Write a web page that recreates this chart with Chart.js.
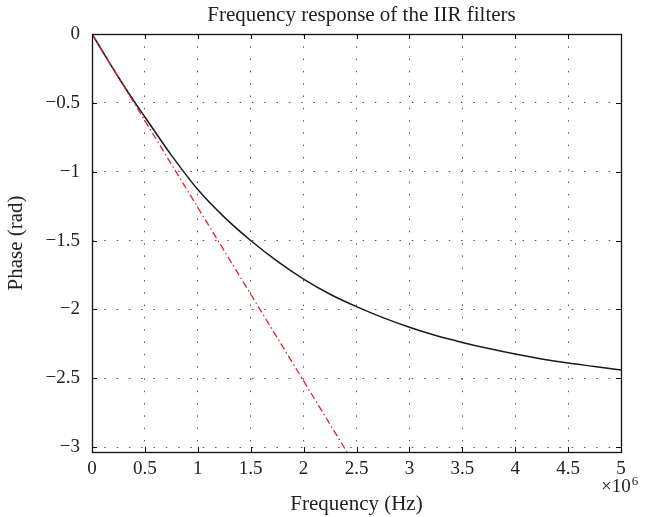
<!DOCTYPE html>
<html><head><meta charset="utf-8">
<script src="https://cdn.jsdelivr.net/npm/chart.js@4/dist/chart.umd.min.js"></script>
<style>html,body{margin:0;padding:0;background:#fff;}</style>
</head><body>
<canvas id="c" width="646" height="517"></canvas>
<script>
const chartTitle = 'Frequency response of the IIR filters';
const xAxisTitle = 'Frequency (Hz)';
const yAxisTitle = 'Phase (rad)';
const xScaleNote = '\u00d710';
const xScaleExp = '6';
const xTicks = [0, 0.5, 1, 1.5, 2, 2.5, 3, 3.5, 4, 4.5, 5];
const yTicks = [0, -0.5, -1, -1.5, -2, -2.5, -3];
// frequency in units of 10^6 Hz
const iirFreq  = [0, 0.125, 0.25, 0.375, 0.5, 0.75, 1, 1.25, 1.5, 1.75, 2, 2.25, 2.5, 2.75, 3, 3.25, 3.5, 3.75, 4, 4.25, 4.5, 4.75, 5];
const iirPhase = [0, -0.158, -0.314, -0.463, -0.603, -0.88, -1.13, -1.33, -1.50, -1.65, -1.78, -1.89, -1.98, -2.06, -2.13, -2.19, -2.24, -2.285, -2.325, -2.36, -2.39, -2.415, -2.44];
const linFreq  = [0, 0.5, 1, 1.5, 2, 2.5];
const linPhase = [0, -0.63, -1.26, -1.89, -2.52, -3.15];

const FONT = '"Liberation Serif", "DejaVu Serif", serif';
const TXT = '#222';

function fmt(v) {
  if (Math.abs(v) < 1e-9) return '0';
  return (v < 0 ? '\u2212' : '') + String(Math.abs(v));
}

const deco = {
  id: 'deco',
  afterDraw(chart) {
    const {ctx, chartArea: a, scales: {x, y}} = chart;
    ctx.save();
    ctx.strokeStyle = '#111';
    ctx.lineWidth = 1;
    const line = (x1, y1, x2, y2) => { ctx.beginPath(); ctx.moveTo(x1, y1); ctx.lineTo(x2, y2); ctx.stroke(); };
    xTicks.forEach(v => {
      const px = Math.round(x.getPixelForValue(v)) + 0.5;
      line(px, a.bottom, px, a.bottom - 5);
      line(px, a.top, px, a.top + 5);
    });
    yTicks.forEach(v => {
      const py = Math.round(y.getPixelForValue(v)) + 0.5;
      line(a.left, py, a.left + 5, py);
      line(a.right, py, a.right - 5, py);
    });
    ctx.lineWidth = 1.3;
    ctx.strokeRect(Math.round(a.left) + 0.5, Math.round(a.top) + 0.5, Math.round(a.right - a.left), Math.round(a.bottom - a.top));
    ctx.fillStyle = TXT;
    ctx.font = '21px ' + FONT;
    ctx.textAlign = 'center';
    ctx.textBaseline = 'alphabetic';
    ctx.fillText(chartTitle, (a.left + a.right) / 2 + 5, 21);
    ctx.textAlign = 'left';
    ctx.font = '19px ' + FONT;
    const nx = a.right - 20;
    ctx.fillText(xScaleNote, nx, a.bottom + 40);
    const w = ctx.measureText(xScaleNote).width;
    ctx.font = '13px ' + FONT;
    ctx.fillText(xScaleExp, nx + w + 1, a.bottom + 33);
    ctx.restore();
  }
};

new Chart(document.getElementById('c'), {
  type: 'line',
  data: {
    datasets: [
      {
        label: 'IIR',
        data: iirFreq.map((f, i) => ({x: f, y: iirPhase[i]})),
        borderColor: '#1a1a1a',
        borderWidth: 1.5,
        pointRadius: 0,
        cubicInterpolationMode: 'monotone',
        fill: false,
        order: 1
      },
      {
        label: 'Linear',
        data: linFreq.map((f, i) => ({x: f, y: linPhase[i]})),
        borderColor: '#e8202a',
        borderWidth: 1.3,
        borderDash: [7, 3, 1.5, 3],
        pointRadius: 0,
        tension: 0,
        fill: false,
        order: 0
      }
    ]
  },
  options: {
    responsive: false,
    animation: false,
    devicePixelRatio: 1,
    layout: {padding: {top: 34, right: 25, left: 0, bottom: 0}},
    plugins: {legend: {display: false}, title: {display: false}, tooltip: {enabled: false}},
    scales: {
      x: {
        type: 'linear', min: 0, max: 5,
        afterBuildTicks: s => { s.ticks = xTicks.map(v => ({value: v})); },
        afterFit: s => { s.height = 65; },
        grid: {color: '#555', lineWidth: 1, drawTicks: false},
        border: {display: false, dash: [1.5, 10.8]},
        ticks: {autoSkip: false, maxRotation: 0, padding: 6, color: TXT, font: {family: FONT, size: 19}, callback: v => fmt(v)},
        title: {display: true, text: xAxisTitle, color: TXT, font: {family: FONT, size: 21}, padding: {top: 4, bottom: 0}}
      },
      y: {
        type: 'linear', min: -3.036, max: 0,
        afterBuildTicks: s => { s.ticks = yTicks.map(v => ({value: v})); },
        afterFit: s => { s.width = 92; },
        grid: {color: '#555', lineWidth: 1, drawTicks: false},
        border: {display: false, dash: [1.5, 10.8]},
        ticks: {padding: 12, color: TXT, font: {family: FONT, size: 19}, callback: v => fmt(v)},
        title: {display: true, text: yAxisTitle, color: TXT, font: {family: FONT, size: 21}, padding: {top: 4, bottom: 0}}
      }
    }
  },
  plugins: [deco]
});
</script>
</body></html>
